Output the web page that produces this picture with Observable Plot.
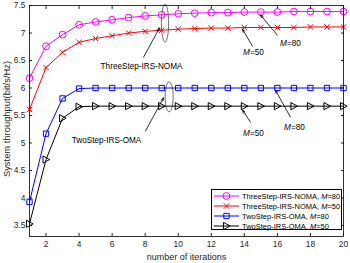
<!DOCTYPE html>
<html><head><meta charset="utf-8">
<script src="https://cdn.jsdelivr.net/npm/d3@7"></script>
<script src="https://cdn.jsdelivr.net/npm/@observablehq/plot@0.6"></script>
<style>
body{margin:0;background:#fff;font-family:"Liberation Sans",Arial,sans-serif;}
#wrap{position:relative;width:350px;height:263px;}
#legend{position:absolute;left:211px;top:189px;width:131px;height:41px;border:0.8px solid #000;background:#fff;box-sizing:border-box;padding-top:1px;}
.row{display:flex;align-items:center;height:10px;font-size:7.5px;color:#000;white-space:nowrap;}
.row svg{margin-left:1px;margin-right:2px;}
</style></head><body><div id="wrap"></div>
<script>
const iterations = [1,2,3,4,5,6,7,8,9,10,11,12,13,14,15,16,17,18,19,20];
const threeStepM80 = [6.18,6.76,6.97,7.15,7.20,7.24,7.28,7.31,7.33,7.35,7.36,7.37,7.37,7.38,7.38,7.38,7.39,7.39,7.39,7.39];
const threeStepM50 = [5.61,6.37,6.65,6.83,6.90,6.95,7.00,7.03,7.05,7.07,7.08,7.09,7.09,7.10,7.10,7.10,7.10,7.11,7.11,7.11];
const twoStepM80 = [3.93,5.17,5.81,5.99,6.00,6.00,6.00,6.00,6.00,6.00,6.00,6.00,6.00,6.00,6.00,6.00,6.00,6.00,6.00,6.00];
const twoStepM50 = [3.53,4.70,5.45,5.66,5.67,5.67,5.67,5.67,5.67,5.67,5.67,5.67,5.67,5.67,5.67,5.67,5.67,5.67,5.67,5.67];
const seriesNames = ["ThreeStep-IRS-NOMA, M=80","ThreeStep-IRS-NOMA, M=50","TwoStep-IRS-OMA, M=80","TwoStep-IRS-OMA, M=50"];
const seriesColors = ["#ff00ff","#ff0000","#0000ff","#000000"];
const xTicks = [2,4,6,8,10,12,14,16,18,20];
const yTicks = [3.5,4,4.5,5,5.5,6,6.5,7,7.5];

const seriesValues = [threeStepM80, threeStepM50, twoStepM80, twoStepM50];

// annotations (data units)
const noteTexts = [
  {x:7.78,y:6.40,t:"ThreeStep-IRS-NOMA"},
  {x:5.66,y:5.04,t:"TwoStep-IRS-OMA"},
  {x:16.79,y:6.82,t:"M=80"},
  {x:14.55,y:6.64,t:"M=50"},
  {x:17.03,y:5.29,t:"M=80"},
  {x:14.55,y:5.18,t:"M=50"}
];
const noteArrows = [
  {x1:7.90,y1:6.56,x2:8.86,y2:7.09},
  {x1:8.02,y1:5.22,x2:9.11,y2:5.82},
  {x1:16.0,y1:6.96,x2:14.97,y2:7.33},
  {x1:14.49,y1:6.76,x2:13.89,y2:7.07},
  {x1:16.79,y1:5.47,x2:15.88,y2:5.96},
  {x1:14.37,y1:5.38,x2:13.89,y2:5.60}
];
const noteEllipses = [
  {x:9.2,y:7.18},
  {x:9.45,y:5.84}
];

function ellipseSymbol(rx, ry){
  const k = 0.5523;
  return {draw(ctx){
    ctx.moveTo(rx,0);
    ctx.bezierCurveTo(rx,k*ry,k*rx,ry,0,ry);
    ctx.bezierCurveTo(-k*rx,ry,-rx,k*ry,-rx,0);
    ctx.bezierCurveTo(-rx,-k*ry,-k*rx,-ry,0,-ry);
    ctx.bezierCurveTo(k*rx,-ry,rx,-k*ry,rx,0);
    ctx.closePath();
  }};
}
const triRight = {draw(ctx,size){
  const r = Math.sqrt(size/Math.PI);
  ctx.moveTo(r,0); ctx.lineTo(-r*0.85,-r); ctx.lineTo(-r*0.85,r); ctx.closePath();
}};
const symbols = ["circle","times","square",triRight];
const symbolR = [3.4,2.6,3.0,3.6];

const seriesMarks = [];
seriesValues.forEach((vals,i)=>{
  const rows = iterations.map((x,j)=>({x, y: vals[j]}));
  seriesMarks.push(Plot.line(rows,{x:"x",y:"y",stroke:seriesColors[i],strokeWidth:1}));
  seriesMarks.push(Plot.dot(rows,{x:"x",y:"y",stroke:seriesColors[i],fill:"none",symbol:symbols[i],r:symbolR[i],strokeWidth:1}));
});

const chart = Plot.plot({
  width:350, height:263,
  marginLeft:29, marginRight:7, marginTop:5, marginBottom:27,
  style:{fontFamily:"'Liberation Sans', Arial, sans-serif", fontSize:"8.4px", color:"#262626", background:"#fff"},
  x:{domain:[1,20]},
  y:{domain:[3.3,7.5]},
  marks:[
    Plot.axisX(xTicks,{anchor:"bottom",tickSize:-3,tickPadding:8,tickFormat:d=>String(d),label:null,fontSize:8.4}),
    Plot.axisX(xTicks,{anchor:"top",tickSize:-3,tickFormat:()=>"",label:null}),
    Plot.axisY(yTicks,{anchor:"left",tickSize:-3,tickPadding:7,tickFormat:d=>String(d),label:null,fontSize:8.4}),
    Plot.axisY(yTicks,{anchor:"right",tickSize:-3,tickFormat:()=>"",label:null}),
    Plot.text(["number of iterations"],{frameAnchor:"bottom",dy:21,text:d=>d,fontSize:9,fill:"#262626",lineAnchor:"middle",textAnchor:"middle"}),
    Plot.text(["System throughput(bit/s/Hz)"],{frameAnchor:"left",dx:-23,dy:-2,rotate:-90,text:d=>d,fontSize:9.4,fill:"#262626",lineAnchor:"middle",textAnchor:"middle"}),
    ...seriesMarks,
    Plot.dot(noteEllipses.slice(0,1),{x:"x",y:"y",symbol:ellipseSymbol(3.6,19),stroke:"#333",strokeWidth:0.7,fill:"none"}),
    Plot.dot(noteEllipses.slice(1,2),{x:"x",y:"y",symbol:ellipseSymbol(4,15),stroke:"#333",strokeWidth:0.7,fill:"none"}),
    Plot.arrow(noteArrows,{x1:"x1",y1:"y1",x2:"x2",y2:"y2",stroke:"#000",strokeWidth:0.8,headLength:6,headAngle:40}),
    Plot.text(noteTexts,{x:"x",y:"y",text:"t",fill:"#000",fontSize:8.2}),
    Plot.frame({stroke:"#000",strokeWidth:0.8})
  ]
});
const wrap = document.getElementById("wrap");
wrap.appendChild(chart);
d3.select(chart).selectAll("text").each(function(){
  const s = this.textContent;
  if(/^M=/.test(s)){
    this.innerHTML = `<tspan font-style="italic">M</tspan>${s.slice(1)}`;
  }
});

// legend
const legend = document.createElement("div");
legend.id = "legend";
seriesNames.forEach((name,i)=>{
  const row = document.createElement("div");
  row.className = "row";
  const svg = d3.create("svg").attr("width",27).attr("height",10);
  svg.append("line").attr("x1",1).attr("x2",26).attr("y1",5).attr("y2",5).attr("stroke",seriesColors[i]).attr("stroke-width",1);
  const sym = d3.symbol(typeof symbols[i]==="string" ? {circle:d3.symbolCircle,times:d3.symbolTimes,square:d3.symbolSquare}[symbols[i]] : symbols[i], Math.PI*symbolR[i]*symbolR[i]);
  svg.append("path").attr("d",sym()).attr("transform","translate(13.5,5)").attr("fill","none").attr("stroke",seriesColors[i]).attr("stroke-width",1);
  row.appendChild(svg.node());
  const [a,b] = name.split("M=");
  const span = document.createElement("span");
  span.innerHTML = `${a}<i>M</i>=${b}`;
  row.appendChild(span);
  legend.appendChild(row);
});
wrap.appendChild(legend);
</script></body></html>
